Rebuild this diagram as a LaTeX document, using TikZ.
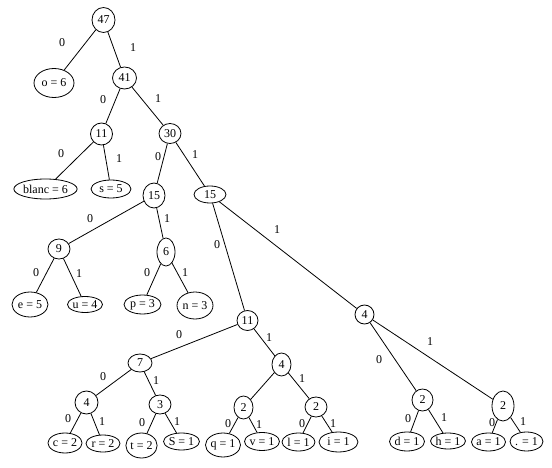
\documentclass[tikz,border=0pt]{standalone}
\usepackage{fontspec}
\setmainfont{Liberation Serif}
\usepackage{tikz}
\usetikzlibrary{shapes.geometric}

\begin{document}
\begin{tikzpicture}[
        x=1pt, y=-1pt,
        font=\fontsize{12}{14}\selectfont,
        line width=0.8pt,
        knot/.style={
            ellipse,
            draw,
            inner sep=0pt,
            minimum width=22pt,
            minimum height=21pt
        },
        leaf/.style={
            ellipse,
            draw,
            inner sep=0pt,
            minimum height=19pt
        },
        bit/.style={
            inner sep=0pt
        }
    ]
    \useasboundingbox (0,0) rectangle (552,468);

    % noeuds internes
    \node[knot, minimum width=23pt, minimum height=25pt] (n47) at (103.5,20) {47};
    \node[knot, minimum width=24pt, minimum height=22pt] (n41) at (124.5,78) {41};
    \node[knot, minimum height=22pt] (n11a) at (101.5,134) {11};
    \node[knot, minimum height=20pt] (n30) at (170,133.5) {30};
    \node[knot, minimum height=25pt] (n15a) at (154,195.5) {15};
    \node[knot, minimum width=32pt, minimum height=17pt] (n15b) at (210,194.5) {15};
    \node[knot, minimum height=20pt] (n9) at (59,249) {9};
    \node[knot, minimum width=18pt, minimum height=28pt] (n6) at (166,252) {6};
    \node[knot, minimum width=21pt, minimum height=20pt] (n11b) at (247.5,320.5) {11};
    \node[knot, minimum width=19pt, minimum height=19pt] (n4c) at (364.5,314.5) {4};
    \node[knot, minimum width=24pt, minimum height=18pt] (n7) at (140,363) {7};
    \node[knot, minimum width=19pt, minimum height=23pt] (n4b) at (281.5,364.5) {4};
    \node[knot, minimum width=23pt, minimum height=23pt] (n4a) at (86.5,402.5) {4};
    \node[knot, minimum height=19pt] (n3a) at (160,404.5) {3};
    \node[knot, minimum width=19pt, minimum height=23pt] (n2a) at (243.5,407.5) {2};
    \node[knot, minimum height=20pt] (n2b) at (316,407) {2};
    \node[knot, minimum width=21pt, minimum height=22pt] (n2c) at (422.5,400) {2};
    \node[knot, minimum height=30pt] (n2d) at (503,406) {2};

    % feuilles
    \node[leaf, minimum width=40pt, minimum height=29pt] (o6) at (54,83) {o = 6};
    \node[leaf, minimum height=20pt] (blanc) at (45.5,189) {blanc = 6};
    \node[leaf, minimum width=40pt, minimum height=18pt] (s5) at (111,189) {s = 5};
    \node[leaf, minimum width=36pt, minimum height=25pt] (e5) at (30,304.5) {e = 5};
    \node[leaf, minimum height=16pt] (u4) at (85,304.5) {u = 4};
    \node[leaf, minimum width=37pt] (p3) at (142.5,304.5) {p = 3};
    \node[leaf, minimum width=36pt, minimum height=27pt] (n3) at (195,305.5) {n = 3};
    \node[leaf, minimum height=20pt] (c2) at (65,443) {c = 2};
    \node[leaf, minimum width=34pt, minimum height=17pt] (r2) at (103,443.5) {r = 2};
    \node[leaf, minimum height=25pt] (t2) at (141.5,445.5) {t = 2};
    \node[leaf, minimum height=17pt] (S1) at (181.5,441.5) {S = 1};
    \node[leaf, minimum height=24pt] (q1) at (223,445) {q = 1};
    \node[leaf, minimum height=18pt] (v1) at (262,441.5) {v = 1};
    \node[leaf, minimum width=33pt, minimum height=18pt] (l1) at (298.5,442) {l = 1};
    \node[leaf, minimum width=39pt, minimum height=20pt] (i1) at (338.5,442) {i = 1};
    \node[leaf] (d1) at (407,441.5) {d = 1};
    \node[leaf, minimum height=16pt] (h1) at (448,441) {h = 1};
    \node[leaf, minimum height=18pt] (a1) at (488.5,442) {a = 1};
    \node[leaf, minimum width=33pt] (dot1) at (526.5,441.5) {. = 1};

    % branches
    \draw (n47) -- (o6);
    \draw (n47) -- (n41);
    \draw (n41) -- (n11a);
    \draw (n41) -- (n30);
    \draw (n11a) -- (blanc);
    \draw (n11a) -- (s5);
    \draw (n30) -- (n15a);
    \draw (n30) -- (n15b);
    \draw (n15a) -- (n9);
    \draw (n15a) -- (n6);
    \draw (n15b) -- (n11b);
    \draw (n15b) -- (n4c);
    \draw (n9) -- (e5);
    \draw (n9) -- (u4);
    \draw (n6) -- (p3);
    \draw (n6) -- (n3);
    \draw (n11b) -- (n7);
    \draw (n11b) -- (n4b);
    \draw (n7) -- (n4a);
    \draw (n7) -- (n3a);
    \draw (n4a) -- (c2);
    \draw (n4a) -- (r2);
    \draw (n3a) -- (t2);
    \draw (n3a) -- (S1);
    \draw (n4b) -- (n2a);
    \draw (n4b) -- (n2b);
    \draw (n2a) -- (q1);
    \draw (n2a) -- (v1);
    \draw (n2b) -- (l1);
    \draw (n2b) -- (i1);
    \draw (n4c) -- (n2c);
    \draw (n4c) -- (n2d);
    \draw (n2c) -- (d1);
    \draw (n2c) -- (h1);
    \draw (n2d) -- (a1);
    \draw (n2d) -- (dot1);

    % etiquettes des branches
    \node[bit] (b1) at (62,42.5) {0};
    \node[bit] (b2) at (133,48) {1};
    \node[bit] (b3) at (103,100) {0};
    \node[bit] (b4) at (158,98.5) {1};
    \node[bit] (b5) at (61,153.5) {0};
    \node[bit] (b6) at (119,159) {1};
    \node[bit] (b7) at (158,156.5) {0};
    \node[bit] (b8) at (195,155) {1};
    \node[bit] (b9) at (90,218.5) {0};
    \node[bit] (b10) at (167,218.5) {1};
    \node[bit] (b11) at (217,244.5) {0};
    \node[bit] (b12) at (277,229.5) {1};
    \node[bit] (b13) at (36,272.5) {0};
    \node[bit] (b14) at (79,273.5) {1};
    \node[bit] (b15) at (147,272.5) {0};
    \node[bit] (b16) at (185,273) {1};
    \node[bit] (b17) at (179,335) {0};
    \node[bit] (b18) at (269,337.5) {1};
    \node[bit] (b19) at (103,377) {0};
    \node[bit] (b20) at (156,381) {1};
    \node[bit] (b21) at (68,418.5) {0};
    \node[bit] (b22) at (102,422) {1};
    \node[bit] (b23) at (142,422.5) {0};
    \node[bit] (b24) at (177,422) {1};
    \node[bit] (b25) at (228,423.5) {0};
    \node[bit] (b26) at (259,425) {1};
    \node[bit] (b27) at (302,379) {1};
    \node[bit] (b28) at (302,423.5) {0};
    \node[bit] (b29) at (333,423.5) {1};
    \node[bit] (b30) at (379,360) {0};
    \node[bit] (b31) at (430,342) {1};
    \node[bit] (b32) at (408,419) {0};
    \node[bit] (b33) at (444,417.5) {1};
    \node[bit] (b34) at (492,423) {0};
    \node[bit] (b35) at (523,422) {1};

\end{tikzpicture}
\end{document}
